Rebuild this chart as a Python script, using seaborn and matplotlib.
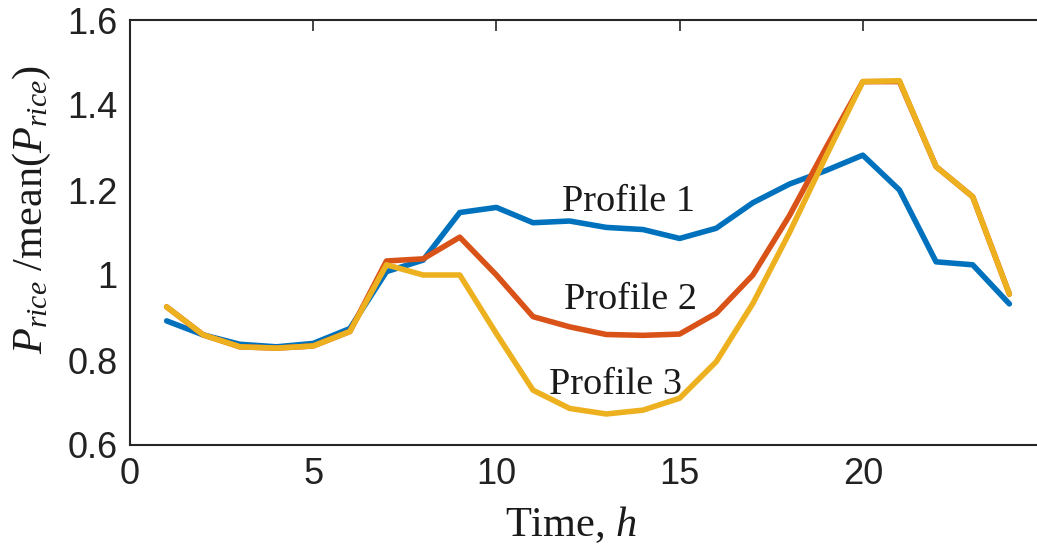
import matplotlib
matplotlib.use("Agg")
import matplotlib.pyplot as plt
import seaborn as sns
import pandas as pd

hours = list(range(1, 25))
profile1 = [0.892, 0.859, 0.837, 0.831, 0.839, 0.874, 1.008, 1.035, 1.147, 1.159, 1.123, 1.127,
            1.112, 1.107, 1.086, 1.110, 1.170, 1.214, 1.246, 1.282, 1.200, 1.031, 1.024, 0.932]
profile2 = [0.925, 0.859, 0.831, 0.828, 0.833, 0.867, 1.033, 1.038, 1.089, 1.000, 0.902, 0.878,
            0.860, 0.858, 0.861, 0.910, 1.000, 1.140, 1.300, 1.455, 1.455, 1.255, 1.184, 0.955]
profile3 = [0.925, 0.859, 0.831, 0.828, 0.833, 0.867, 1.024, 1.000, 1.000, 0.862, 0.729, 0.686,
            0.673, 0.682, 0.710, 0.796, 0.933, 1.100, 1.280, 1.455, 1.457, 1.255, 1.184, 0.955]
series_names = ["Profile 1", "Profile 2", "Profile 3"]
colors = ["#0072BD", "#D95319", "#EDB120"]
xticks = [0, 5, 10, 15, 20]
yticks = [0.6, 0.8, 1.0, 1.2, 1.4, 1.6]
ytick_labels = ["0.6", "0.8", "1", "1.2", "1.4", "1.6"]

sns.set_style("white")
plt.rcParams["mathtext.fontset"] = "custom"
plt.rcParams["mathtext.rm"] = "Liberation Serif"
plt.rcParams["mathtext.it"] = "Liberation Serif:italic"

df = pd.DataFrame({
    "hour": hours * 3,
    "value": profile1 + profile2 + profile3,
    "profile": [series_names[0]] * 24 + [series_names[1]] * 24 + [series_names[2]] * 24,
})

fig = plt.figure(figsize=(10.37, 5.44), dpi=100)
ax = fig.add_axes([130 / 1037, 99 / 544, 916 / 1037, 425 / 544])

sns.lineplot(data=df, x="hour", y="value", hue="profile", palette=colors,
             linewidth=4.0, ax=ax, legend=False)

ax.set_xlim(0, 25)
ax.set_ylim(0.6, 1.6)
ax.set_xticks(xticks)
ax.set_xticklabels([str(t) for t in xticks])
ax.set_yticks(yticks)
ax.set_yticklabels(ytick_labels)
ax.tick_params(direction="in", length=8, width=1.2, top=True, right=False,
               labelsize=26, colors="#262626", pad=9)
for lab in ax.get_xticklabels() + ax.get_yticklabels():
    lab.set_fontfamily("Liberation Sans")
    lab.set_color("#222222")
for s in ax.spines.values():
    s.set_visible(True)
    s.set_color("#262626")
    s.set_linewidth(1.5)

serif = "Liberation Serif"
ax.set_xlabel(r"Time, $h$", fontsize=30.5, fontfamily=serif, color="#1a1a1a")
ax.xaxis.set_label_coords(0.481, -0.14)
ax.set_ylabel(r"$P_{rice}$ /mean($P_{rice}$)", fontsize=30.5, fontfamily=serif, color="#1a1a1a")
ax.yaxis.set_label_coords(-0.084, 0.553)

ax.text(13.6, 1.172, series_names[0], fontsize=27.5, fontfamily=serif, ha="center", va="center", color="#1a1a1a")
ax.text(13.65, 0.942, series_names[1], fontsize=27.5, fontfamily=serif, ha="center", va="center", color="#1a1a1a")
ax.text(13.25, 0.742, series_names[2], fontsize=27.5, fontfamily=serif, ha="center", va="center", color="#1a1a1a")

fig.savefig("out.png", dpi=100)
